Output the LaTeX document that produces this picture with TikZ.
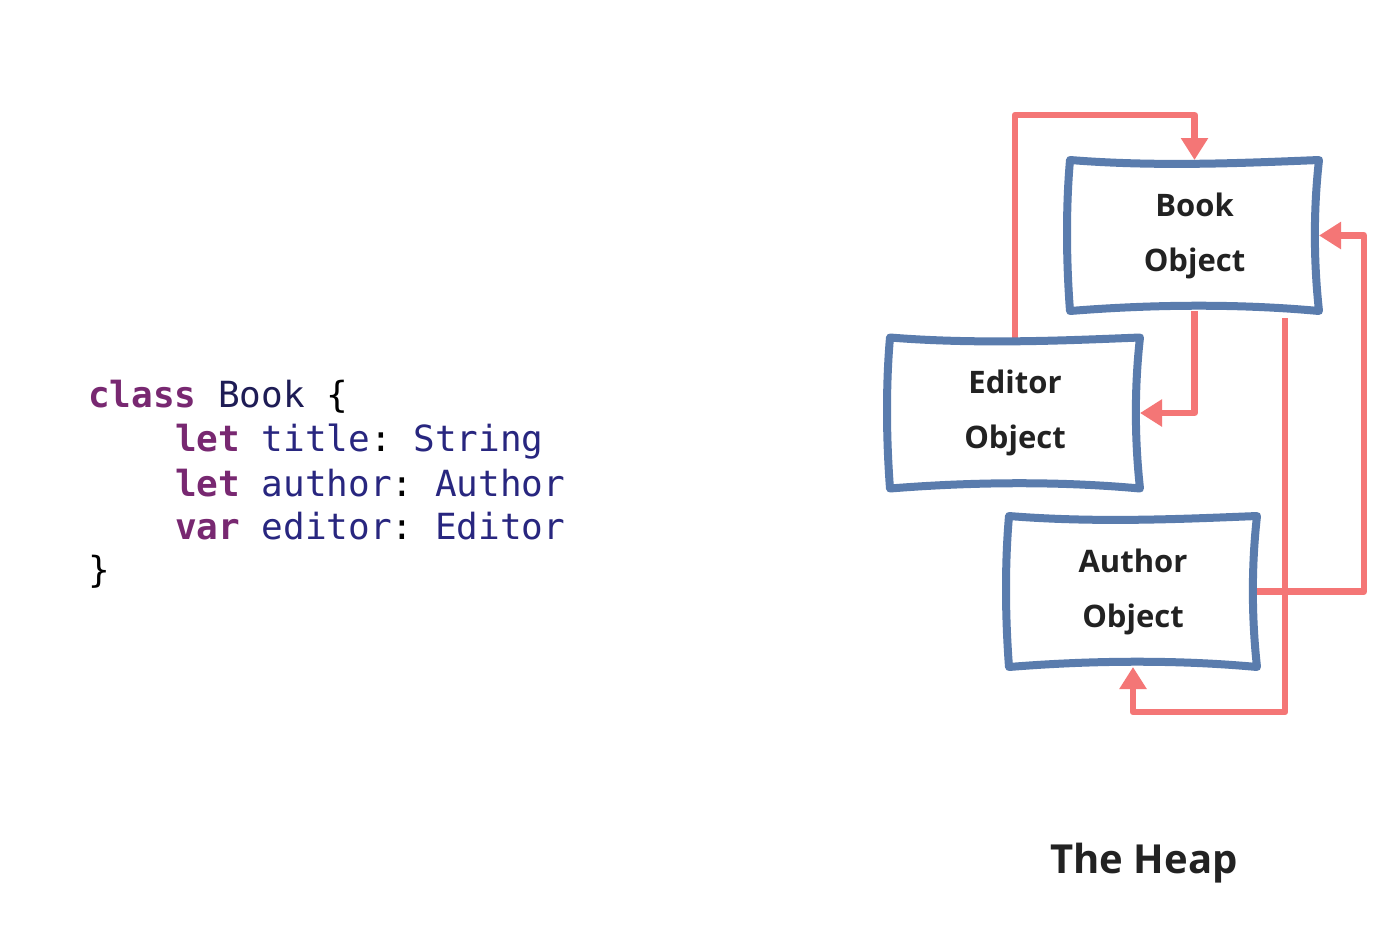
\documentclass[tikz,border=0pt]{standalone}
\usepackage{fontspec}
\setmonofont{DejaVu Sans Mono}
\newfontfamily\labelfont{Open Sans}
\usetikzlibrary{arrows.meta,calc,backgrounds}
\definecolor{boxblue}{HTML}{5A7CAD}
\definecolor{arrowred}{HTML}{F47676}
\definecolor{kwpurple}{HTML}{782871}
\definecolor{idnavy}{HTML}{28267F}
\definecolor{typenavy}{HTML}{1E1C55}
\definecolor{txtdark}{HTML}{222222}
\newcommand\wobbly[1]{%
 \draw[boxline] (#1.north west)
  .. controls ($(#1.north west)!.35!(#1.north east)+(0,7)$) and ($(#1.north west)!.7!(#1.north east)+(0,3)$) .. (#1.north east)
  .. controls ($(#1.north east)!.35!(#1.south east)+(-6,0)$) and ($(#1.north east)!.7!(#1.south east)+(-5,0)$) .. (#1.south east)
  .. controls ($(#1.south east)!.35!(#1.south west)+(0,-8)$) and ($(#1.south east)!.7!(#1.south west)+(0,-6)$) .. (#1.south west)
  .. controls ($(#1.south west)!.35!(#1.north west)+(-4,0)$) and ($(#1.south west)!.7!(#1.north west)+(-4,0)$) .. cycle;}
\tikzset{
  code/.style={anchor=base west, inner sep=0pt, outer sep=0pt, font=\ttfamily\fontsize{36}{44}\selectfont},
  objbox/.style={inner sep=0pt, outer sep=0pt, minimum width=#1, minimum height=151pt, align=center,
     text=txtdark, font=\labelfont\bfseries\fontsize{31}{55}\selectfont},
  boxline/.style={draw=boxblue, line width=8pt, line join=round, fill=white},
  ref/.style={draw=arrowred, line width=6.5pt, line join=round,
     -{Triangle[width=26pt,length=22pt]}},
}
\begin{document}
\begin{tikzpicture}[x=1pt,y=-1pt]
\useasboundingbox (0,0) rectangle (1400,930);

% code
\node[code] (l1) at (88,407) {\textcolor{kwpurple}{\bfseries class} \textcolor{typenavy}{Book} \{};
\node[code] (l2) at (175,451) {\textcolor{kwpurple}{\bfseries let} \textcolor{idnavy}{title}: \textcolor{idnavy}{String}};
\node[code] (l3) at (175,496) {\textcolor{kwpurple}{\bfseries let} \textcolor{idnavy}{author}: \textcolor{idnavy}{Author}};
\node[code] (l4) at (175,539) {\textcolor{kwpurple}{\bfseries var} \textcolor{idnavy}{editor}: \textcolor{idnavy}{Editor}};
\node[code] (l5) at (88,582) {\}};

% heap objects
\node[objbox=249pt] (book) at (1194.5,235.5) {Book\\Object};
\node[objbox=250pt] (editor) at (1015,413) {Editor\\Object};
\node[objbox=248pt] (author) at (1133,591.5) {Author\\Object};

\begin{scope}[on background layer]
\fill[white] (0,0) rectangle (1400,930);
% references
\coordinate (t1) at (1015,115);
\coordinate (s3) at (1285,318);
\coordinate (b3) at (1285,712);
\draw[ref] (editor.north) -- (t1) -| (book.north);
\draw[ref] (book.south) |- (editor.east);
\draw[ref] (s3) -- (b3) -| (author.south);
\draw[ref] (author.east) -- ++(107,0) |- (book.east);
% box outlines
\wobbly{book}
\wobbly{editor}
\wobbly{author}
\end{scope}

\node[anchor=base, inner sep=0pt, text=txtdark, font=\labelfont\bfseries\fontsize{40}{50}\selectfont] (heap) at (1144,873) {The Heap};
\end{tikzpicture}
\end{document}
